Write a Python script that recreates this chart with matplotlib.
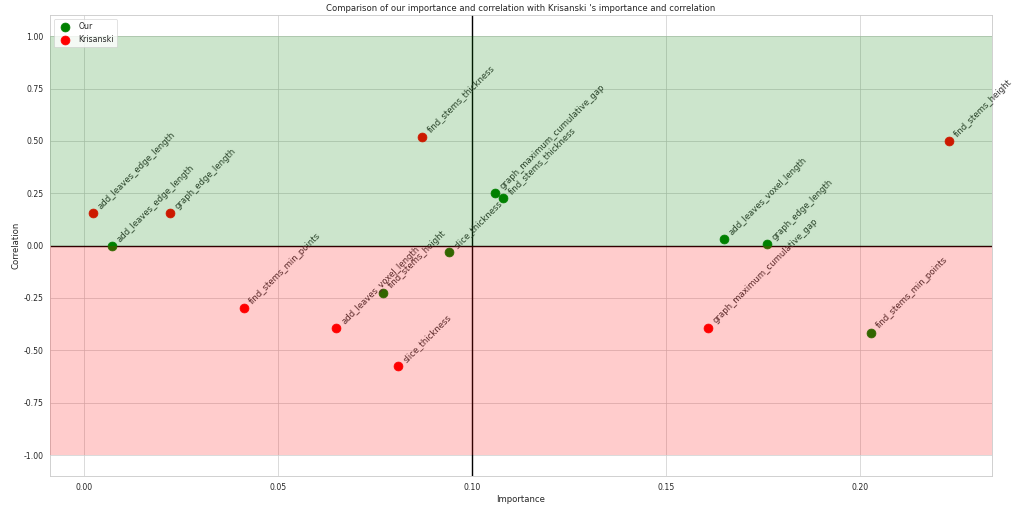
import matplotlib
matplotlib.use("Agg")
import matplotlib.pyplot as plt
import seaborn as sns

sns.set_theme(style="whitegrid")
plt.rcParams['font.family'] = ['DejaVu Sans']

# Parameter names with their importance and correlation
our_names = ["add_leaves_edge_length", "slice_thickness", "find_stems_height",
             "graph_maximum_cumulative_gap", "find_stems_thickness",
             "add_leaves_voxel_length", "graph_edge_length", "find_stems_min_points"]
our_importance = [0.0071, 0.0940, 0.0770, 0.1059, 0.1080, 0.1649, 0.1759, 0.2028]
our_correlation = [0.000, -0.030, -0.224, 0.250, 0.226, 0.032, 0.008, -0.415]

kri_names = ["add_leaves_edge_length", "graph_edge_length", "find_stems_thickness",
             "find_stems_min_points", "add_leaves_voxel_length", "slice_thickness",
             "graph_maximum_cumulative_gap", "find_stems_height"]
kri_importance = [0.0022, 0.0221, 0.0870, 0.0411, 0.0650, 0.0809, 0.1608, 0.2229]
kri_correlation = [0.156, 0.156, 0.520, -0.297, -0.392, -0.577, -0.391, 0.498]

fig, ax = plt.subplots(figsize=(20, 10), dpi=50.7)
fig.subplots_adjust(left=0.0493, right=0.978, top=0.970, bottom=0.0611)

ax.scatter(our_importance, our_correlation, s=160, color="green", label="Our", zorder=2)
ax.scatter(kri_importance, kri_correlation, s=160, color="red", label="Krisanski", zorder=2)

for name, x, y in zip(our_names, our_importance, our_correlation):
    ax.annotate(name, (x, y), xytext=(5, 3), textcoords="offset points",
                rotation=45, ha="left", va="bottom", fontsize=12, color="0.2")
for name, x, y in zip(kri_names, kri_importance, kri_correlation):
    ax.annotate(name, (x, y), xytext=(5, 3), textcoords="offset points",
                rotation=45, ha="left", va="bottom", fontsize=12, color="0.2")

ax.axhline(0, color="black", lw=2, zorder=1)
ax.axvline(0.1, color="black", lw=2, zorder=1)
ax.axhspan(0, 1, color="green", alpha=0.2, lw=0, zorder=3)
ax.axhspan(-1, 0, color="red", alpha=0.2, lw=0, zorder=3)

ax.set_ylim(-1.1, 1.1)
ax.set_yticks([-1.0, -0.75, -0.5, -0.25, 0.0, 0.25, 0.5, 0.75, 1.0])
ax.set_xticks([0.0, 0.05, 0.10, 0.15, 0.20])
ax.xaxis.set_major_formatter(matplotlib.ticker.FormatStrFormatter("%.2f"))
ax.yaxis.set_major_formatter(matplotlib.ticker.FormatStrFormatter("%.2f"))

ax.set_xlabel("Importance")
ax.set_ylabel("Correlation")
ax.set_title("Comparison of our importance and correlation with Krisanski 's importance and correlation")
ax.legend(loc="upper left")

fig.savefig("out.png", dpi=50.7)
